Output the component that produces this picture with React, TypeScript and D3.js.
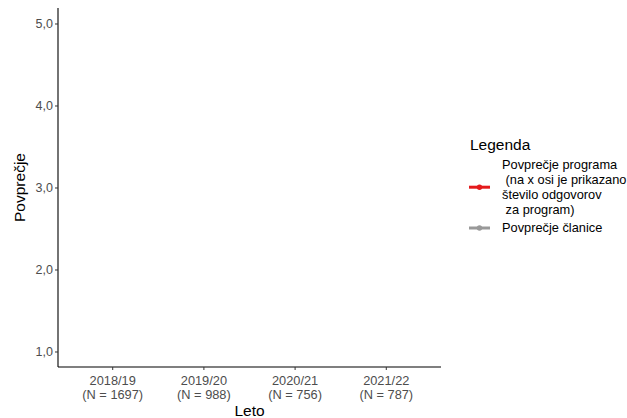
import React from "react";
import * as d3 from "d3";

const categories = ["2018/19\n(N = 1697)", "2019/20\n(N = 988)", "2020/21\n(N = 756)", "2021/22\n(N = 787)"];
const yTicks = [1, 2, 3, 4, 5];
// Series values are empty in the reference (nothing plotted)
const programMeans: (number | null)[] = [null, null, null, null];
const memberMeans: (number | null)[] = [null, null, null, null];
const legendTitle = "Legenda";
const legendItems = [
  { lines: ["Povprečje programa", " (na x osi je prikazano", "število odgovorov", " za program)"], color: "#E41A1C" },
  { lines: ["Povprečje članice"], color: "#999999" },
];

const W = 627, H = 418;
const left = 58, right = 441, top = 8, bottom = 367;

export default function App() {
  const x = d3.scaleLinear().domain([0.4, categories.length + 0.6]).range([left, right]);
  const y = d3.scaleLinear().domain([0.817, 5.195]).range([bottom, top]);
  const line = d3.line<number | null>()
    .defined((d) => d != null)
    .x((_, i) => x(i + 1))
    .y((d) => y(d as number));
  const font = "'Liberation Sans', Arial, sans-serif";
  const fmt = (v: number) => v.toFixed(1).replace(".", ",");
  const lh = 14.8;
  return (
    <svg width={W} height={H} style={{ position: "absolute", left: 0, top: 0, background: "#fff" }} fontFamily={font}>
      {/* data lines */}
      <path d={line(memberMeans) || ""} fill="none" stroke="#999999" strokeWidth={2} />
      <path d={line(programMeans) || ""} fill="none" stroke="#E41A1C" strokeWidth={2} />
      {/* axes */}
      <line x1={left} x2={left} y1={top} y2={bottom} stroke="#000" strokeWidth={1.1} />
      <line x1={left} x2={right} y1={bottom} y2={bottom} stroke="#000" strokeWidth={1.1} />
      {yTicks.map((t) => (
        <g key={t}>
          <line x1={left - 3} x2={left} y1={y(t)} y2={y(t)} stroke="#333" />
          <text x={left - 5} y={y(t)} dy="0.35em" textAnchor="end" fontSize={12.5} fill="#4D4D4D">{fmt(t)}</text>
        </g>
      ))}
      {categories.map((c, i) => (
        <g key={c}>
          <line x1={x(i + 1)} x2={x(i + 1)} y1={bottom} y2={bottom + 3} stroke="#333" />
          {c.split("\n").map((s, j) => (
            <text key={j} x={x(i + 1)} y={381 + j * 14} dy="0.35em" textAnchor="middle" fontSize={12.8} fill="#4D4D4D">{s}</text>
          ))}
        </g>
      ))}
      <text x={(left + right) / 2} y={411} dy="0.35em" textAnchor="middle" fontSize={15.5} fill="#000">Leto</text>
      <text transform={`translate(20,${(top + bottom) / 2}) rotate(-90)`} dy="0.35em" textAnchor="middle" fontSize={15.5} fill="#000">Povprečje</text>
      {/* legend */}
      <text x={470} y={145} dy="0.35em" fontSize={15.5} fill="#000">{legendTitle}</text>
      {legendItems.map((it, k) => {
        const y0 = k === 0 ? 165 : 228;
        const cy = y0 + ((it.lines.length - 1) * lh) / 2;
        return (
          <g key={k}>
            <line x1={469} x2={490} y1={cy} y2={cy} stroke={it.color} strokeWidth={3} />
            <circle cx={479.5} cy={cy} r={2.7} fill={it.color} />
            {it.lines.map((s, j) => (
              <text key={j} x={502} y={y0 + j * lh} dy="0.35em" fontSize={12.8} fill="#000" style={{ whiteSpace: "pre" }}>{s}</text>
            ))}
          </g>
        );
      })}
    </svg>
  );
}
